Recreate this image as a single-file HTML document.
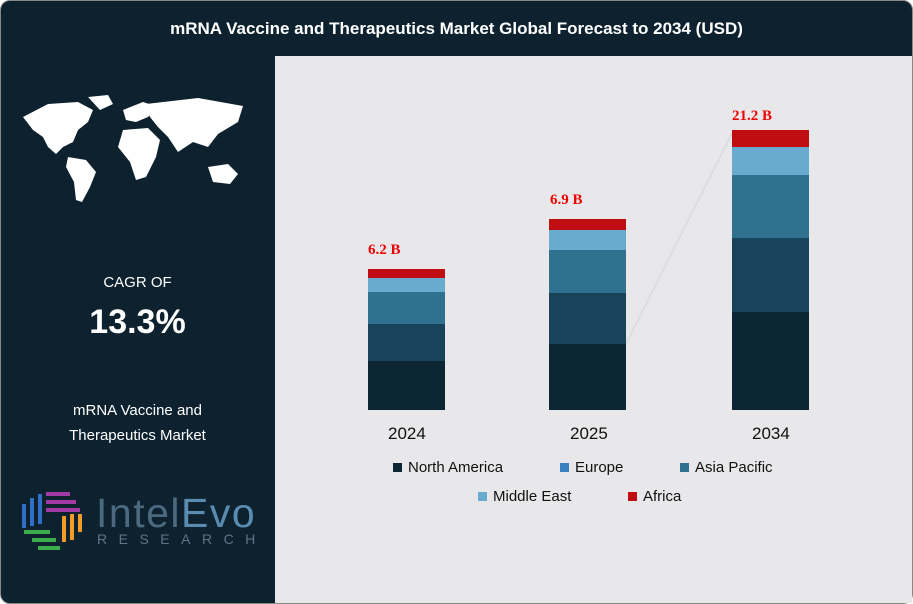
<!DOCTYPE html>
<html><head><style>
body{margin:0;width:913px;height:604px;background:#fff;font-family:"Liberation Sans",sans-serif;overflow:hidden}
.wrap{position:absolute;left:0;top:0;width:913px;height:604px;box-sizing:border-box;background:#0d222e;border-radius:10px;border:1px solid #888}
.in{position:absolute;left:-1px;top:-1px;width:913px;height:604px}
.title{position:absolute;top:19px;left:0;width:913px;text-align:center;color:#fff;font-weight:bold;font-size:17px}
.panel{position:absolute;left:275px;top:56px;width:637px;height:547px;background:#e8e8ea}
.bar{position:absolute;width:77px}
.lbl{position:absolute;color:#e00;font-family:"Liberation Serif",serif;font-weight:bold;font-size:15px}
.yr{position:absolute;font-size:17px;color:#111;top:424px}
.lg{position:absolute;font-size:15px;color:#111}
.lg i{display:inline-block;width:9px;height:9px;margin-right:6px}
.w{color:#fff;position:absolute;text-align:center;width:275px;left:0}
</style></head><body>
<div class="wrap"><div class="in">
<div class="title">mRNA Vaccine and Therapeutics Market Global Forecast to 2034 (USD)</div>
<svg style="position:absolute;left:18px;top:92px" width="240" height="120" viewBox="0 0 240 120">
<g fill="#fff">
<path d="M5 25 L30 12 L60 10 L75 18 L70 30 L60 38 L55 50 L45 55 L38 62 L30 55 L25 45 L15 38 Z"/>
<path d="M70 5 L90 3 L95 12 L82 18 Z"/>
<path d="M50 65 L68 68 L78 80 L72 95 L64 110 L58 108 L56 90 L48 75 Z"/>
<path d="M105 18 L125 10 L140 15 L130 25 L118 30 L108 28 Z"/>
<path d="M105 38 L130 36 L142 48 L138 65 L128 85 L118 88 L112 70 L100 55 Z"/>
<path d="M128 12 L180 6 L225 14 L220 30 L200 42 L190 55 L175 50 L160 60 L150 45 L140 35 L132 25 Z"/>
<path d="M190 75 L210 72 L220 82 L212 92 L195 90 Z"/>
</g></svg>
<div class="w" style="top:274px;font-size:15px">CAGR OF</div>
<div class="w" style="top:303px;font-size:34px;font-weight:bold">13.3%</div>
<div class="w" style="top:398px;font-size:15px;line-height:25px">mRNA Vaccine and<br>Therapeutics Market</div>
<svg style="position:absolute;left:20px;top:490px" width="62" height="65">
<g fill="none" stroke-width="4">
<path d="M4 38 V14 M12 36 V8 M20 34 V4" stroke="#2f6fc8"/>
<path d="M26 4 H50 M26 12 H56 M26 20 H60" stroke="#a23aa8"/>
<path d="M44 26 V52 M52 24 V50 M60 24 V42" stroke="#f39c2a"/>
<path d="M4 42 H30 M12 50 H36 M18 58 H40" stroke="#3bae4a"/>
</g></svg>
<div style="position:absolute;left:96px;top:490px;font-size:41px;color:#4b6a80;letter-spacing:1.5px">Intel<span style="color:#5a8bb0">Evo</span></div>
<div style="position:absolute;left:97px;top:531px;font-size:14px;color:#5b7586;letter-spacing:11.5px">RESEARCH</div>
<div class="panel"></div>
<svg style="position:absolute;left:0;top:0" width="913" height="604">
<line x1="626" y1="344" x2="732" y2="133" stroke="#dadadc" stroke-width="1.5"/>
</svg>
<div class="bar" style="left:368px;top:269px;height:9px;background:#c00d12"></div>
<div class="bar" style="left:368px;top:278px;height:14px;background:#69abce"></div>
<div class="bar" style="left:368px;top:292px;height:32px;background:#30718f"></div>
<div class="bar" style="left:368px;top:324px;height:37px;background:#18435a"></div>
<div class="bar" style="left:368px;top:361px;height:49px;background:#0d2633"></div>
<div class="bar" style="left:549px;top:219px;height:11px;background:#c00d12"></div>
<div class="bar" style="left:549px;top:230px;height:20px;background:#69abce"></div>
<div class="bar" style="left:549px;top:250px;height:43px;background:#30718f"></div>
<div class="bar" style="left:549px;top:293px;height:51px;background:#18435a"></div>
<div class="bar" style="left:549px;top:344px;height:66px;background:#0d2633"></div>
<div class="bar" style="left:732px;top:130px;height:17px;background:#c00d12"></div>
<div class="bar" style="left:732px;top:147px;height:28px;background:#69abce"></div>
<div class="bar" style="left:732px;top:175px;height:63px;background:#30718f"></div>
<div class="bar" style="left:732px;top:238px;height:74px;background:#18435a"></div>
<div class="bar" style="left:732px;top:312px;height:98px;background:#0d2633"></div>
<div class="lbl" style="left:368px;top:242px">6.2 B</div>
<div class="lbl" style="left:550px;top:192px">6.9 B</div>
<div class="lbl" style="left:732px;top:108px">21.2 B</div>
<div class="yr" style="left:388px">2024</div>
<div class="yr" style="left:570px">2025</div>
<div class="yr" style="left:752px">2034</div>
<div class="lg" style="left:393px;top:459px"><i style="background:#0d2633"></i>North America</div>
<div class="lg" style="left:560px;top:459px"><i style="background:#3a80c0"></i>Europe</div>
<div class="lg" style="left:680px;top:459px"><i style="background:#30718f"></i>Asia Pacific</div>
<div class="lg" style="left:478px;top:488px"><i style="background:#69abce"></i>Middle East</div>
<div class="lg" style="left:628px;top:488px"><i style="background:#c00d12"></i>Africa</div>
</div></div>
</body></html>
